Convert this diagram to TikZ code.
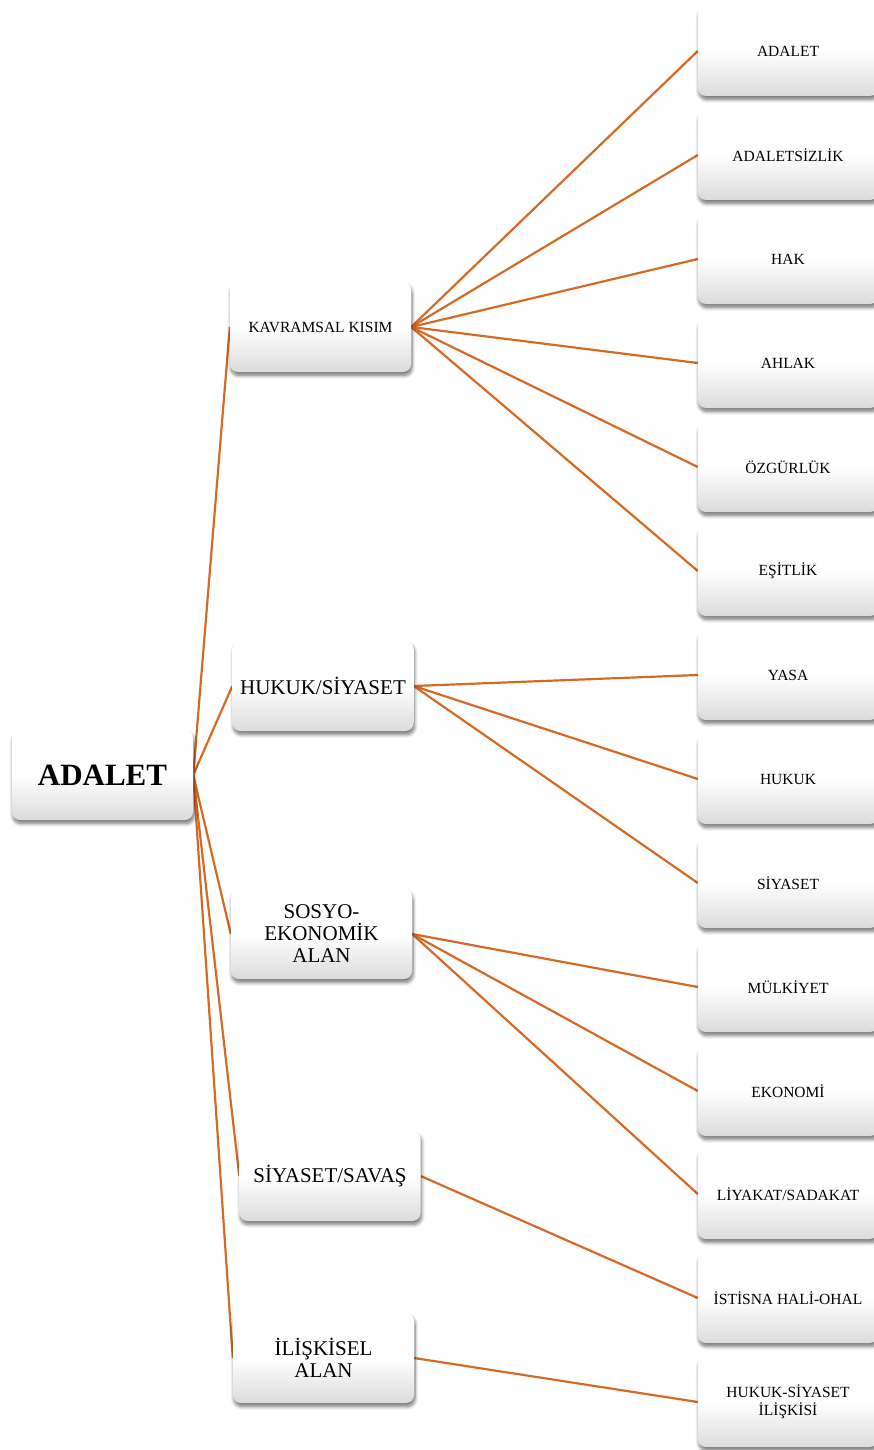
\documentclass[tikz,border=0pt]{standalone}
\usepackage{fontspec}
\setmainfont{Liberation Serif}
\usetikzlibrary{shadows.blur,backgrounds}
\definecolor{linkc}{RGB}{212,106,38}
\tikzset{
  boxbase/.style={rounded corners=8pt, top color=white, bottom color=black!14, middle color=white,
    blur shadow={shadow xshift=1pt, shadow yshift=-3.5pt, shadow blur steps=8, shadow blur radius=3.5pt, shadow opacity=55},
    align=center, inner sep=2pt},
  rootbox/.style={boxbase, minimum width=181pt, minimum height=90pt, font=\fontsize{31}{34}\selectfont\bfseries},
  midbox/.style={boxbase, minimum width=181pt, minimum height=90pt, font=\fontsize{21}{22}\selectfont},
  midsmall/.style={boxbase, minimum width=181pt, minimum height=90pt, font=\fontsize{15.5}{18}\selectfont},
  leafbox/.style={boxbase, minimum width=180pt, minimum height=90pt, font=\fontsize{15.5}{18}\selectfont},
  link/.style={draw=linkc, line width=2.2pt}
}
\begin{document}
\begin{tikzpicture}[x=1pt,y=-1pt]
\useasboundingbox (0,0) rectangle (874,1450);
\node[rootbox] (root) at (102.5,775) {ADALET};
\node[midsmall] (m1) at (320.5,327) {KAVRAMSAL KISIM};
\node[midbox] (m2) at (323,686) {HUKUK/SİYASET};
\node[midbox] (m3) at (321.5,934) {SOSYO-\\EKONOMİK\\ALAN};
\node[midbox] (m4) at (330,1176) {SİYASET/SAVAŞ};
\node[midbox] (m5) at (323.5,1358) {İLİŞKİSEL\\ALAN};
\node[leafbox] (l1) at (788,51) {ADALET};
\node[leafbox] (l2) at (788,155) {ADALETSİZLİK};
\node[leafbox] (l3) at (788,259) {HAK};
\node[leafbox] (l4) at (788,363) {AHLAK};
\node[leafbox] (l5) at (788,467) {ÖZGÜRLÜK};
\node[leafbox] (l6) at (788,571) {EŞİTLİK};
\node[leafbox] (l7) at (788,675) {YASA};
\node[leafbox] (l8) at (788,779) {HUKUK};
\node[leafbox] (l9) at (788,883) {SİYASET};
\node[leafbox] (l10) at (788,987) {MÜLKİYET};
\node[leafbox] (l11) at (788,1091) {EKONOMİ};
\node[leafbox] (l12) at (788,1194) {LİYAKAT/SADAKAT};
\node[leafbox] (l13) at (788,1298) {İSTİSNA HALİ-OHAL};
\node[leafbox] (l14) at (788,1402) {HUKUK-SİYASET\\İLİŞKİSİ};
\begin{pgfonlayer}{background}
\foreach \m in {m1,m2,m3,m4,m5} \draw[link] (root.east) -- (\m.west);
\foreach \l in {l1,l2,l3,l4,l5,l6} \draw[link] (m1.east) -- (\l.west);
\foreach \l in {l7,l8,l9} \draw[link] (m2.east) -- (\l.west);
\foreach \l in {l10,l11,l12} \draw[link] (m3.east) -- (\l.west);
\draw[link] (m4.east) -- (l13.west);
\draw[link] (m5.east) -- (l14.west);
\end{pgfonlayer}
\end{tikzpicture}
\end{document}
